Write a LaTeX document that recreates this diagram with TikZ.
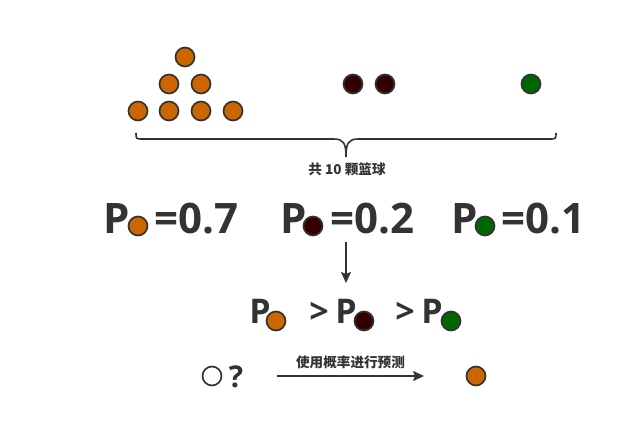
\documentclass[tikz,border=0pt]{standalone}
\usepackage{fontspec}
\setmainfont{Open Sans}
\newfontfamily\cjk{Noto Sans CJK SC}
\usepackage{tikz}
\usetikzlibrary{arrows.meta}
\tikzset{>={Stealth[length=11pt,width=10pt,inset=2pt]}}
\definecolor{ink}{HTML}{333333}
\definecolor{ballor}{HTML}{CC6600}
\definecolor{ballrd}{HTML}{330000}
\definecolor{ballgr}{HTML}{006600}

\begin{document}
\begin{tikzpicture}[x=1pt,y=-1pt,
  ball/.style={circle,draw=ink,line width=1.7pt,minimum size=19pt,inner sep=0pt},
  big/.style={text=ink,font=\bfseries\fontsize{42}{42}\selectfont,inner sep=0pt},
  mid/.style={text=ink,font=\bfseries\fontsize{34}{34}\selectfont,inner sep=0pt},
  lab/.style={text=ink,font=\cjk\bfseries\fontsize{13.6}{14}\selectfont,inner sep=1pt}]
              \useasboundingbox (0,0) rectangle (631,423);

              % the ten balls
              \node[ball,fill=ballor] (o1) at (185,57) {};
              \node[ball,fill=ballor] (o2) at (169,84) {};
              \node[ball,fill=ballor] (o3) at (201,84) {};
              \node[ball,fill=ballor] (o4) at (138,111) {};
              \node[ball,fill=ballor] (o5) at (169,111) {};
              \node[ball,fill=ballor] (o6) at (201,111) {};
              \node[ball,fill=ballor] (o7) at (233,111) {};
              \node[ball,fill=ballrd] (r1) at (353,84) {};
              \node[ball,fill=ballrd] (r2) at (385,84) {};
              \node[ball,fill=ballgr] (g1) at (531,84) {};

              % brace
              \draw[ink,line width=1.6pt]
                (136,133) .. controls (136,139) .. (143,139) -- (334,139)
                .. controls (344,139) and (346,144) .. (346,157)
                .. controls (346,144) and (348,139) .. (358,139) -- (549,139)
                .. controls (556,139) .. (556,133);
              \node[lab] (total) at (347,169) {共 10 颗篮球};

              % probabilities
              \node[big,anchor=base] (pa) at (117,233) {P};
              \node[ball,fill=ballor] (sa) at (138,226) {};
              \node[big,anchor=base west] (va) at (154,233) {=0.7};
              \node[big,anchor=base] (pb) at (294,233) {P};
              \node[ball,fill=ballrd] (sb) at (313,226) {};
              \node[big,anchor=base west] (vb) at (330,233) {=0.2};
              \node[big,anchor=base] (pc) at (465,233) {P};
              \node[ball,fill=ballgr] (sc) at (485,226) {};
              \node[big,anchor=base west] (vc) at (501,233) {=0.1};

              \coordinate (down1) at (346,242);
              \coordinate (down2) at (346,283);
              \draw[->,ink,line width=1.6pt] (down1) -- (down2);

              % ordering
              \node[mid,anchor=base] (qa) at (260,323) {P};
              \node[ball,fill=ballor] (ta) at (276,321) {};
              \node[mid,anchor=base] (gt1) at (319,323) {>};
              \node[mid,anchor=base] (qb) at (346,323) {P};
              \node[ball,fill=ballrd] (tb) at (364,321) {};
              \node[mid,anchor=base] (gt2) at (405,323) {>};
              \node[mid,anchor=base] (qc) at (432,323) {P};
              \node[ball,fill=ballgr] (tc) at (451,321) {};

              % prediction
              \node[ball,fill=white] (unk) at (212,376) {};
              \node[text=ink,font=\bfseries\fontsize{30}{30}\selectfont,inner sep=0pt,anchor=base] (qm) at (236,387) {?};
              \coordinate (pred1) at (277,376);
              \coordinate (pred2) at (424,376);
              \draw[->,ink,line width=1.6pt] (pred1) -- node[lab,above=5pt] (use) {使用概率进行预测} (pred2);
              \node[ball,fill=ballor] (res) at (476,376) {};
\end{tikzpicture}
\end{document}
